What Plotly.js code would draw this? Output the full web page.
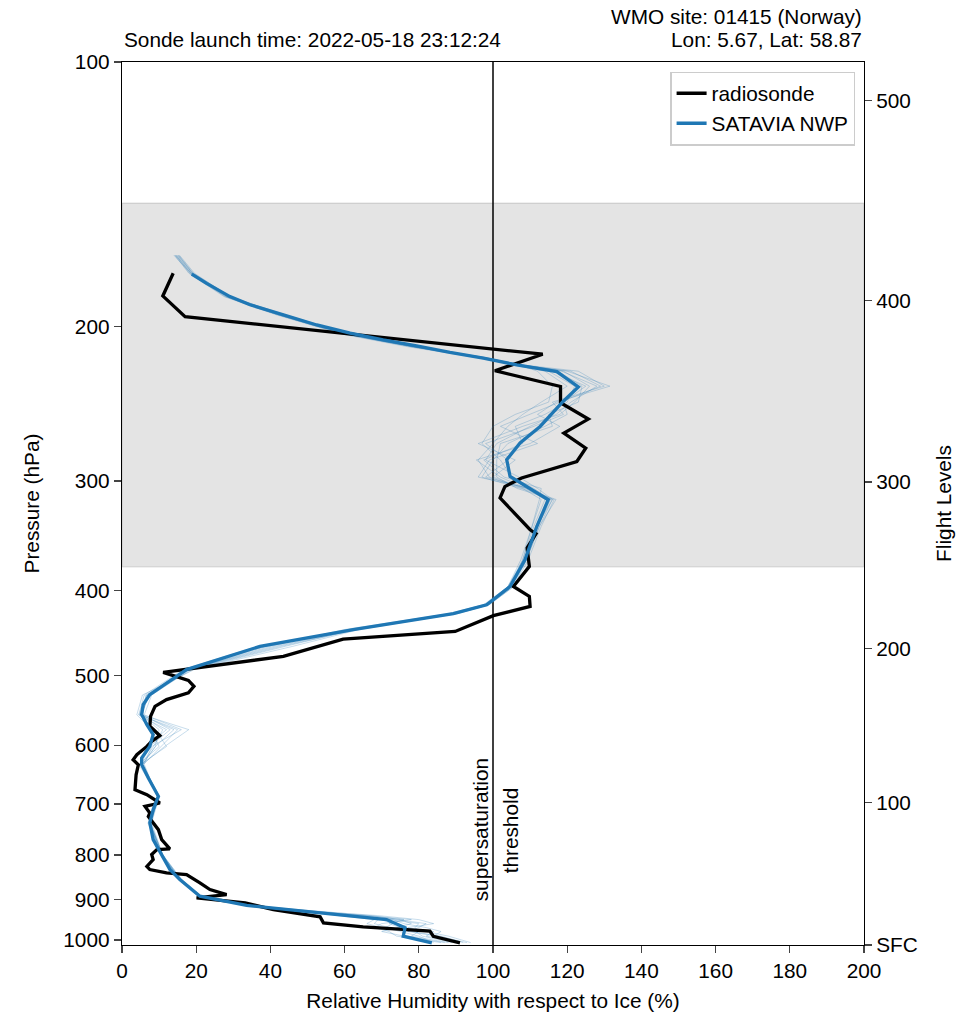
<!DOCTYPE html>
<html><head><meta charset="utf-8">
<script src="https://cdn.plot.ly/plotly-3.0.1.min.js"></script>
<style>html,body{margin:0;padding:0;background:#fff}</style>
</head><body><div id="chart" style="width:972px;height:1017px"></div>
<script>
// Radiosonde profile (pressure hPa, RHi %)
const rsP = [174.0,184.7,195.0,215.2,224.7,234.2,244.4,255.1,264.7,275.3,285.1,297.7,304.5,313.7,341.0,344.6,357.7,375.4,395.7,406.2,416.9,427.2,445.2,454.2,475.3,495.6,506.2,514.2,523.1,532.4,541.9,556.2,571.0,585.2,594.0,601.9,615.1,623.3,631.6,648.4,674.4,683.2,698.2,704.4,716.7,723.2,748.7,768.6,787.6,788.9,799.3,809.8,824.7,831.4,838.6,842.3,860.9,876.1,887.7,895.5,907.3,923.3,941.1,956.0,966.0,972.7,977.2,990.2,1007.4];
const rsRh = [13.8,11.0,17.0,113.4,100.5,118.2,118.2,125.7,119.1,125.0,122.6,107.7,103.2,101.9,110.0,111.6,109.2,109.8,105.5,109.8,110.0,100.1,89.8,59.6,43.5,11.1,17.9,19.4,17.9,12.0,8.9,7.7,7.5,10.2,8.0,6.7,4.0,3.0,4.4,3.8,3.5,6.7,10.2,6.2,7.5,7.1,9.8,10.7,12.9,9.4,8.0,8.4,6.7,7.5,12.0,17.4,21.0,23.7,28.2,20.1,33.2,40.8,53.4,54.3,65.0,76.7,83.0,83.9,91.1];

// SATAVIA NWP (ensemble mean)
const nwpP = [174.4,178.7,185.0,189.0,194.1,199.3,203.6,207.3,210.5,214.2,217.4,221.3,225.2,234.4,243.6,260.1,271.6,283.8,296.5,315.2,338.1,368.9,395.7,415.1,425.0,443.2,463.0,492.1,525.5,539.5,553.7,568.4,583.5,601.6,620.4,631.4,653.8,686.0,710.4,735.6,768.6,799.3,831.4,853.3,891.6,913.4,927.3,937.8,947.8,968.5,990.0,1007.4];
const nwpRh = [18.8,22.8,29.1,34.5,43.5,52.5,61.5,70.4,79.4,88.4,97.4,106.4,117.2,123.0,118.9,112.7,107.3,103.7,104.6,114.9,111.8,108.6,104.6,98.3,89.3,62.3,37.2,17.4,7.5,5.7,5.3,6.7,8.4,7.5,5.3,5.3,7.1,9.8,8.4,7.5,8.4,10.7,12.9,15.6,21.0,33.6,48.9,62.3,71.3,76.3,75.8,83.5];

// NWP ensemble members
const ensP = [166,174,185,194,204,211,217,221,225,234,244,252,260,272,284,297,306,315,338,369,396,415,425,443,463,492,526,554,576,602,631,686,736,800,853,892,913,927,938,948,958,968,978,990,1007];
const ens1 = [14.2,18.0,27.5,41.5,59.0,77.0,95.5,105.0,114.0,120.0,113.0,108.0,104.0,100.0,96.0,99.0,108.0,113.0,110.5,107.5,104.0,97.5,88.0,60.0,40.0,18.0,7.0,5.0,10.0,9.0,5.5,9.5,7.5,10.5,15.0,20.5,33.0,48.0,66.0,78.0,70.0,68.0,72.0,74.0,86.0];
const ens2 = [15.0,19.0,28.5,42.5,60.0,78.5,97.0,106.5,118.5,128.0,121.0,117.0,110.0,101.0,98.0,107.0,112.0,116.0,112.5,109.0,105.0,98.5,89.5,62.0,36.5,16.5,6.0,4.5,12.0,6.5,5.0,10.0,7.5,11.0,16.0,21.5,34.0,50.0,64.0,72.0,80.0,79.0,80.0,78.0,88.0];
const ens3 = [14.6,18.5,28.0,42.0,59.5,78.0,96.5,106.0,120.0,131.5,117.0,112.0,118.0,110.0,95.5,102.0,109.0,114.0,111.0,108.0,104.5,98.0,89.0,63.5,43.0,18.5,8.0,6.0,16.0,8.0,6.0,9.5,7.0,10.5,15.5,21.0,33.5,52.0,67.0,75.0,78.0,74.0,84.0,82.0,91.0];
const ens4 = [15.5,19.5,29.0,43.0,60.5,79.0,97.0,106.0,116.0,125.0,119.0,120.0,114.0,104.0,100.0,97.0,107.5,116.5,113.0,109.5,105.5,99.0,90.0,64.0,46.0,19.5,5.5,4.0,8.0,10.0,4.5,10.0,8.0,11.0,16.0,21.0,34.0,49.0,61.0,70.0,73.0,71.0,75.0,80.0,84.0];
const ens5 = [14.0,18.5,28.5,43.0,61.0,79.0,97.5,106.5,112.0,116.0,115.0,106.0,100.0,97.0,102.0,105.0,111.0,115.5,112.0,108.5,104.0,98.0,89.0,61.0,38.5,17.0,6.5,5.5,18.0,11.5,5.5,9.8,7.5,10.7,15.5,21.0,33.5,47.0,58.0,68.0,66.0,70.0,78.0,86.0,92.0];
const ens6 = [15.2,19.0,29.0,43.5,61.5,79.5,97.5,106.5,119.0,126.0,122.0,118.0,108.0,96.0,106.0,100.0,108.5,117.0,112.5,109.0,105.5,99.0,90.5,62.5,41.0,18.0,7.5,5.0,14.0,9.0,5.5,10.0,7.5,11.0,15.5,21.5,34.0,51.0,69.0,80.0,84.0,77.0,82.0,88.0,94.0];
const ens7 = [14.8,18.8,28.8,43.2,60.8,79.0,97.0,106.2,121.0,129.0,118.0,110.0,102.0,112.0,99.0,96.0,110.0,115.0,111.5,108.5,104.5,98.5,89.5,63.0,44.0,19.0,7.0,5.5,13.0,7.5,5.0,9.8,7.8,10.8,15.8,21.2,33.8,49.5,62.0,73.0,76.0,82.0,86.0,84.0,90.0];
const ens8 = [14.4,18.2,27.8,42.0,60.0,78.0,96.0,105.5,115.0,122.0,120.0,114.0,106.0,108.0,97.5,103.0,113.0,112.5,110.5,108.0,104.0,97.8,88.5,61.5,39.0,17.5,6.8,4.8,15.0,10.5,5.8,9.6,7.2,10.6,15.4,20.8,33.2,48.5,65.0,76.0,72.0,75.0,70.0,76.0,87.0];
const ens9 = [15.3,19.2,29.2,43.8,61.2,79.5,97.8,106.8,123.0,130.0,116.0,119.0,111.0,98.0,104.0,98.0,109.5,114.5,112.0,109.0,105.0,98.8,90.0,63.0,42.0,18.2,7.2,5.2,11.0,8.5,5.2,10.2,7.6,10.9,15.7,21.3,33.8,50.5,63.0,74.0,82.0,80.0,77.0,85.0,93.0];
const ens10 = [14.5,18.6,28.2,42.8,60.2,78.6,96.8,106.2,117.5,124.0,123.0,115.0,116.0,102.0,101.0,101.0,106.5,116.0,111.8,108.8,104.8,98.2,89.2,62.8,37.5,17.8,6.6,4.6,9.0,12.0,5.0,9.9,7.4,10.6,15.6,21.0,33.6,48.8,60.0,69.0,68.0,72.0,79.0,81.0,89.0];

// Axis ticks / labels
const pressureTicks = [100,200,300,400,500,600,700,800,900,1000];
const flightLevels = [500,400,300,200,100];
const flLabels = ['500','400','300','200','100','SFC'];
const bandFL = [250,450];
const surfaceP = 1013.25;
const thresholdRh = 100;

// ISA pressure (hPa) at a flight level (hundreds of feet)
function flToP(fl){ return 1013.25*Math.pow(1-2.25577e-5*fl*100*0.3048,5.25588); }

const FONT = 'Liberation Sans, Arial, sans-serif';
const FS = 20.8;

const ensMembers = [ens1,ens2,ens3,ens4,ens5,ens6,ens7,ens8,ens9,ens10];
const traces = [];
ensMembers.forEach(m => traces.push({
  x: m, y: ensP, type:'scatter', mode:'lines', showlegend:false, hoverinfo:'skip',
  line:{color:'rgba(31,119,180,0.28)', width:0.9}
}));
traces.push({x: rsRh, y: rsP, type:'scatter', mode:'lines', name:'radiosonde',
  line:{color:'#000000', width:3.3}});
traces.push({x: nwpRh, y: nwpP, type:'scatter', mode:'lines', name:'SATAVIA NWP',
  line:{color:'#1f77b4', width:3.3}});
// carrier for the flight-level axis
traces.push({x:[null], y:[null], yaxis:'y2', type:'scatter', mode:'lines', showlegend:false, hoverinfo:'skip'});

const flTickVals = flightLevels.map(flToP).concat([surfaceP]);
const yRange = [Math.log10(surfaceP), Math.log10(100)];

const layout = {
  width:972, height:1017,
  margin:{l:122, r:108, t:62, b:72},
  paper_bgcolor:'#ffffff', plot_bgcolor:'#ffffff',
  font:{family:FONT, size:FS, color:'#000'},
  showlegend:true,
  legend:{x:0.988, y:0.989, xanchor:'right', yanchor:'top', bgcolor:'rgba(255,255,255,0.85)',
    bordercolor:'#cccccc', borderwidth:1.5, font:{family:FONT, size:FS}, tracegroupgap:0},
  xaxis:{range:[0,200], dtick:20, tick0:0, ticks:'outside', ticklen:7, tickwidth:1.3,
    showline:true, linecolor:'#000', linewidth:1.3, mirror:true, showgrid:false, zeroline:false,
    tickfont:{family:FONT, size:FS},
    title:{text:'Relative Humidity with respect to Ice (%)', font:{family:FONT, size:FS}, standoff:12}},
  yaxis:{type:'log', range:yRange, tickvals:pressureTicks, ticktext:pressureTicks.map(String),
    ticks:'outside', ticklen:7, tickwidth:1.3, showline:true, linecolor:'#000', linewidth:1.3,
    mirror:true, showgrid:false, zeroline:false, tickfont:{family:FONT, size:FS},
    title:{text:'Pressure (hPa)', font:{family:FONT, size:FS}, standoff:18}},
  yaxis2:{type:'log', range:yRange, overlaying:'y', side:'right', tickvals:flTickVals, ticktext:flLabels,
    ticks:'outside', ticklen:7, tickwidth:1.3, showline:false, showgrid:false, zeroline:false,
    tickfont:{family:FONT, size:FS},
    title:{text:'Flight Levels', font:{family:FONT, size:FS}, standoff:19}},
  shapes:[
    {type:'rect', xref:'paper', x0:0, x1:1, yref:'y', y0:flToP(bandFL[1]), y1:flToP(bandFL[0]),
      fillcolor:'rgba(0,0,0,0.105)', line:{color:'rgba(0,0,0,0.12)', width:1.2}, layer:'below'},
    {type:'line', xref:'x', x0:thresholdRh, x1:thresholdRh, yref:'paper', y0:0, y1:1,
      line:{color:'#000', width:1.5}, layer:'below'}
  ],
  annotations:[
    {xref:'paper', yref:'paper', x:0, y:1, xanchor:'left', yanchor:'bottom', yshift:9, showarrow:false,
      text:'Sonde launch time: 2022-05-18 23:12:24', font:{family:FONT, size:FS}},
    {xref:'paper', yref:'paper', x:1, y:1, xanchor:'right', yanchor:'bottom', yshift:32, showarrow:false,
      text:'WMO site: 01415 (Norway)', font:{family:FONT, size:FS}},
    {xref:'paper', yref:'paper', x:1, y:1, xanchor:'right', yanchor:'bottom', yshift:9, showarrow:false,
      text:'Lon: 5.67, Lat: 58.87', font:{family:FONT, size:FS}},
    {xref:'x', yref:'y', x:96.5, y:Math.log10(750), textangle:-90, showarrow:false,
      text:'supersaturation', font:{family:FONT, size:FS}},
    {xref:'x', yref:'y', x:104.6, y:Math.log10(750), textangle:-90, showarrow:false,
      text:'threshold', font:{family:FONT, size:FS}}
  ]
};

Plotly.newPlot('chart', traces, layout, {displayModeBar:false, staticPlot:true});
</script></body></html>
